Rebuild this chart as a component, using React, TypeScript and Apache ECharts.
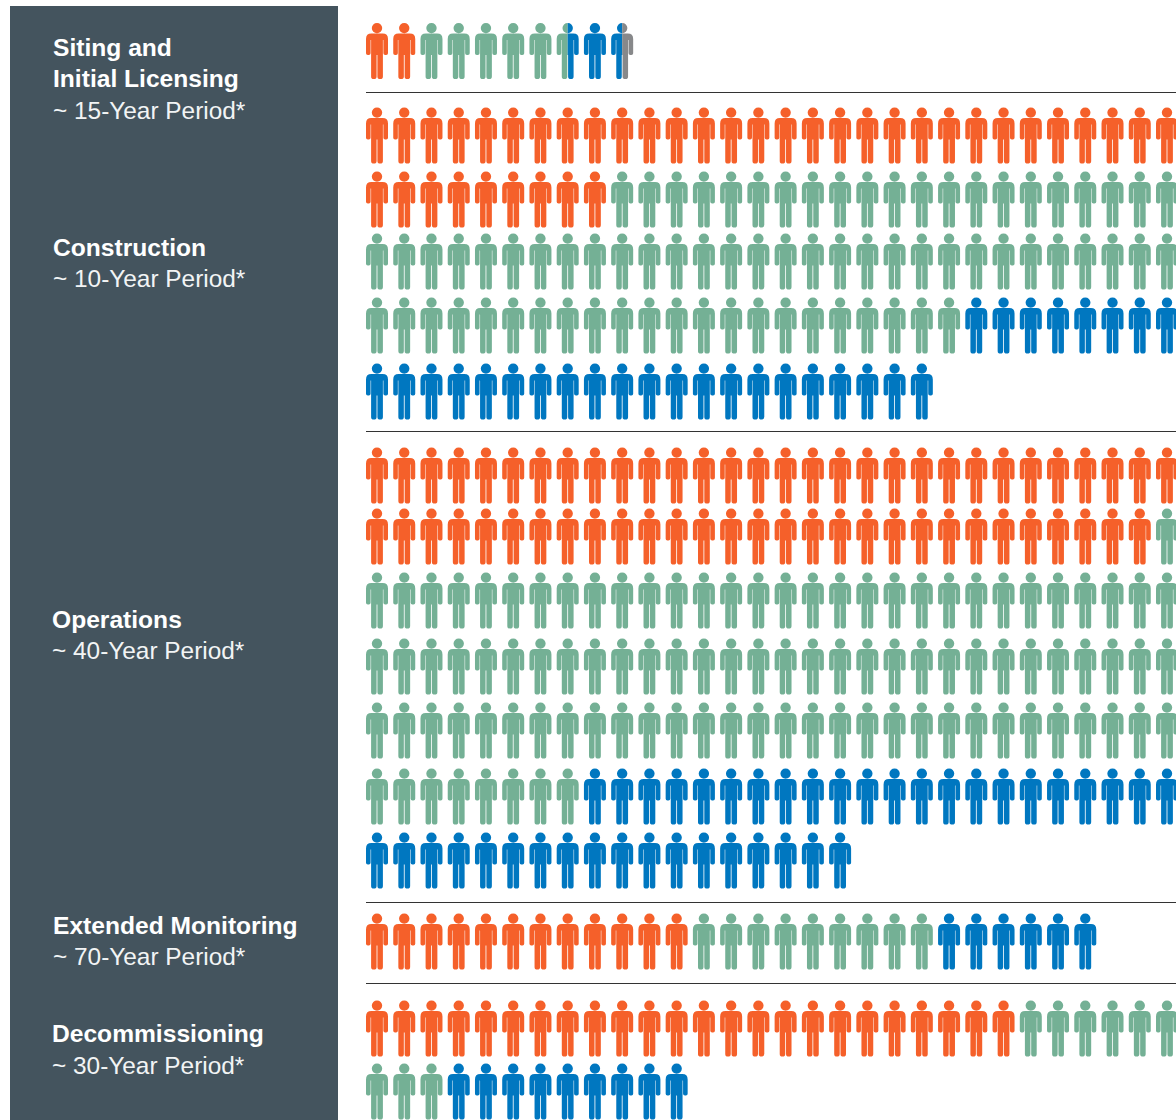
import React, { useEffect, useRef } from "react";
import * as echarts from "echarts";

const rowCenters = [51, 135.5, 199.5, 261.5, 325.5, 391.5, 475.5, 536.5, 600.5, 666.5, 730.5, 796.5, 860.5, 941.5, 1028.5, 1091.5];
const orangeIcons = [2, 30, 9, 0, 0, 0, 30, 29, 0, 0, 0, 0, 0, 12, 24, 0];
const greenIcons = [5.5, 0, 21, 30, 22, 0, 0, 1, 30, 30, 30, 8, 0, 9, 6, 3];
const blueIcons = [2, 0, 0, 0, 8, 21, 0, 0, 0, 0, 0, 22, 18, 6, 0, 9];
const grayIcons = [0.5, 0, 0, 0, 0, 0, 0, 0, 0, 0, 0, 0, 0, 0, 0, 0];
const separators = [92.5, 431.5, 902.5, 983.5];
const stages = [
  { lines: ["Siting and", "Initial Licensing"], period: "~ 15-Year Period*", x: 53, y: 47.5, periodY: 110.5 },
  { lines: ["Construction"], period: "~ 10-Year Period*", x: 53, y: 247.5, periodY: 278.5 },
  { lines: ["Operations"], period: "~ 40-Year Period*", x: 52, y: 619.5, periodY: 650.5 },
  { lines: ["Extended Monitoring"], period: "~ 70-Year Period*", x: 53, y: 925.5, periodY: 956.5 },
  { lines: ["Decommissioning"], period: "~ 30-Year Period*", x: 52, y: 1033.5, periodY: 1065.5 },
];

const FULL =
  "path://M5.8 5.1A5.2 5.1 0 1 1 16.2 5.1A5.2 5.1 0 1 1 5.8 5.1Z" +
  "M5.4 10.6H16.6Q22 10.6 22 16V30.2Q22 32 20.2 32H19.2Q17.4 32 17.4 30.2V17H16.9V53.4Q16.9 56 14.2 56Q11.4 56 11.4 53.4V32H10.6V53.4Q10.6 56 7.8 56Q5.1 56 5.1 53.4V17H4.6V30.2Q4.6 32 2.8 32H1.8Q0 32 0 30.2V16Q0 10.6 5.4 10.6Z";
const LEFT =
  "path://M11 0A5.2 5.1 0 0 0 11 10.2Z" +
  "M5.4 10.6H11V32H10.6V53.4Q10.6 56 7.8 56Q5.1 56 5.1 53.4V17H4.6V30.2Q4.6 32 2.8 32H1.8Q0 32 0 30.2V16Q0 10.6 5.4 10.6Z";
const RIGHT =
  "path://M0 0A5.2 5.1 0 0 1 0 10.2Z" +
  "M0 10.6H5.6Q11 10.6 11 16V30.2Q11 32 9.2 32H8.2Q6.4 32 6.4 30.2V17H5.9V53.4Q5.9 56 3.2 56Q0.4 56 0.4 53.4V32H0Z";

function buildSeries() {
  const colored: [string, string, number[]][] = [
    ["Orange", "#f5602a", orangeIcons],
    ["Green", "#74b095", greenIcons],
    ["Blue", "#0077c0", blueIcons],
    ["Gray", "#87888a", grayIcons],
  ];
  const out: any[] = colored.map(([name, color]) => ({
    name,
    type: "scatter",
    clip: false,
    silent: true,
    itemStyle: { color, opacity: 1 },
    data: [] as any[],
  }));
  rowCenters.forEach((y, row) => {
    let cursor = 0;
    colored.forEach(([, , vals], s) => {
      const start = cursor;
      const end = cursor + vals[row];
      for (let col = Math.floor(start); col < Math.ceil(end); col++) {
        const item: any = { value: [col, y], symbol: FULL, symbolSize: [22, 56] };
        if (start > col) {
          item.symbol = RIGHT;
          item.symbolSize = [11, 56];
          item.symbolOffset = [5.5, 0];
        } else if (end < col + 1) {
          item.symbol = LEFT;
          item.symbolSize = [11, 56];
          item.symbolOffset = [-5.5, 0];
        }
        out[s].data.push(item);
      }
      cursor = end;
    });
  });
  return out;
}

function buildGraphics() {
  const g: any[] = [
    { type: "rect", shape: { x: 10, y: 6, width: 328, height: 1114 }, style: { fill: "#44545e" }, z: 0 },
  ];
  separators.forEach((y) =>
    g.push({ type: "line", shape: { x1: 366, y1: y, x2: 1176, y2: y }, style: { stroke: "#333333", lineWidth: 1 }, z: 0 }),
  );
  stages.forEach((st) => {
    let y = st.y;
    st.lines.forEach((t) => {
      g.push({
        type: "text",
        x: st.x,
        y,
        z: 1,
        style: { text: t, fill: "#ffffff", font: 'bold 24.6px "Liberation Sans"', textAlign: "left", textVerticalAlign: "middle" },
      });
      y += 31;
    });
    g.push({
      type: "text",
      x: st.x,
      y: st.periodY,
      z: 1,
      style: { text: st.period, fill: "#f2f4f5", font: '24.4px "Liberation Sans"', textAlign: "left", textVerticalAlign: "middle" },
    });
  });
  return g;
}

export default function App() {
  const ref = useRef<HTMLDivElement>(null);
  useEffect(() => {
    const chart = echarts.init(ref.current!, undefined, { renderer: "svg" });
    chart.setOption({
      animation: false,
      backgroundColor: "#ffffff",
      grid: { left: 377, top: 0, width: 790, height: 1120 },
      xAxis: { type: "value", min: 0, max: 29, show: false },
      yAxis: { type: "value", min: 0, max: 1120, inverse: true, show: false },
      graphic: { elements: buildGraphics() },
      series: buildSeries(),
    });
    return () => chart.dispose();
  }, []);
  return <div ref={ref} style={{ position: "absolute", left: 0, top: 0, width: 1176, height: 1120 }} />;
}
